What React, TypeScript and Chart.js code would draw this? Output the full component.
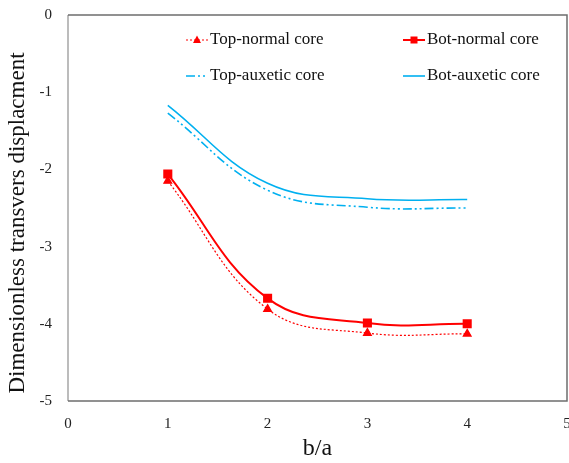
import React, { useEffect, useRef } from "react";
import { Chart, registerables } from "chart.js";
Chart.register(...registerables);

const baRatio = [1, 2, 3, 4];
const topNormal = [-2.15, -3.81, -4.12, -4.13];
const botNormal = [-2.06, -3.67, -3.99, -4.0];
const topAuxetic = [-1.27, -2.27, -2.49, -2.5];
const botAuxetic = [-1.17, -2.18, -2.38, -2.39];
const seriesNames = ["Top-normal core", "Bot-normal core", "Top-auxetic core", "Bot-auxetic core"];
const xTitle = "b/a";
const yTitle = "Dimensionless transvers displacment";

const RED = "#ff0000";
const BLUE = "#00b0f0";
const SERIF = "'Liberation Serif', 'Times New Roman', serif";
const DASHDOT = [9, 3, 2, 3, 2, 3];

const toPts = (ys: number[]) => ys.map((y, i) => ({ x: baRatio[i], y }));

const framePlugin = {
  id: "frame",
  beforeDatasetsDraw(chart: any) {
    const { ctx, chartArea: a } = chart;
    ctx.save();
    ctx.lineWidth = 1.5;
    ctx.strokeStyle = "#a6a6a6";
    ctx.beginPath();
    ctx.moveTo(a.left, a.top);
    ctx.lineTo(a.left, a.bottom);
    ctx.stroke();
    ctx.strokeStyle = "#6e6e6e";
    ctx.beginPath();
    ctx.moveTo(a.left, a.top);
    ctx.lineTo(a.right, a.top);
    ctx.lineTo(a.right, a.bottom);
    ctx.lineTo(a.left, a.bottom);
    ctx.stroke();
    // y-axis title
    ctx.fillStyle = "#111";
    ctx.font = `23px ${SERIF}`;
    ctx.textAlign = "center";
    ctx.textBaseline = "middle";
    ctx.translate(18, (a.top + a.bottom) / 2 + 15);
    ctx.rotate(-Math.PI / 2);
    ctx.fillText(yTitle, 0, 0);
    ctx.restore();
  },
};

const legendPlugin = {
  id: "customLegend",
  afterDatasetsDraw(chart: any) {
    const { ctx, chartArea: a } = chart;
    const cols = [a.left + 118, a.left + 335];
    const rows = [a.top + 25, a.top + 61];
    const sampleW = 22;
    ctx.save();
    ctx.font = `17px ${SERIF}`;
    ctx.textBaseline = "middle";
    ctx.fillStyle = "#111";
    chart.data.datasets.forEach((ds: any, i: number) => {
      const x = cols[i % 2];
      const y = rows[Math.floor(i / 2)];
      ctx.save();
      ctx.strokeStyle = ds.borderColor;
      ctx.lineWidth = ds.borderWidth;
      ctx.setLineDash(ds.borderDash || []);
      ctx.beginPath();
      ctx.moveTo(x, y);
      ctx.lineTo(x + sampleW, y);
      ctx.stroke();
      ctx.restore();
      if (ds.pointRadius > 0) {
        ctx.save();
        ctx.fillStyle = ds.pointBackgroundColor;
        ctx.beginPath();
        const cx = x + sampleW / 2;
        if (ds.pointStyle === "triangle") {
          ctx.moveTo(cx, y - 4.5);
          ctx.lineTo(cx + 4, y + 3);
          ctx.lineTo(cx - 4, y + 3);
          ctx.closePath();
        } else {
          ctx.rect(cx - 3.5, y - 3.5, 7, 7);
        }
        ctx.fill();
        ctx.restore();
      }
      ctx.fillText(seriesNames[i], x + sampleW + 2, y);
    });
    ctx.restore();
  },
};

export default function App() {
  const ref = useRef<HTMLCanvasElement>(null);
  useEffect(() => {
    if (!ref.current) return;
    const chart = new Chart(ref.current, {
      type: "line",
      data: {
        datasets: [
          {
            label: seriesNames[0],
            data: toPts(topNormal),
            borderColor: RED,
            backgroundColor: RED,
            pointBackgroundColor: RED,
            pointBorderColor: RED,
            borderWidth: 1.2,
            borderDash: [2, 2],
            pointStyle: "triangle",
            pointRadius: 4.5,
            tension: 0.4,
          },
          {
            label: seriesNames[1],
            data: toPts(botNormal),
            borderColor: RED,
            backgroundColor: RED,
            pointBackgroundColor: RED,
            pointBorderColor: RED,
            borderWidth: 2,
            pointStyle: "rect",
            pointRadius: 5,
            tension: 0.4,
          },
          {
            label: seriesNames[2],
            data: toPts(topAuxetic),
            borderColor: BLUE,
            backgroundColor: BLUE,
            borderWidth: 1.6,
            borderDash: DASHDOT,
            pointRadius: 0,
            tension: 0.4,
          },
          {
            label: seriesNames[3],
            data: toPts(botAuxetic),
            borderColor: BLUE,
            backgroundColor: BLUE,
            borderWidth: 1.6,
            pointRadius: 0,
            tension: 0.4,
          },
        ],
      },
      options: {
        animation: false,
        responsive: false,
        layout: { autoPadding: false, padding: { top: 15, right: 2, left: 0, bottom: 0 } },
        plugins: { legend: { display: false }, tooltip: { enabled: false } },
        scales: {
          x: {
            type: "linear",
            min: 0,
            max: 5,
            grid: { display: false, drawTicks: false },
            border: { display: false },
            ticks: {
              stepSize: 1,
              padding: 14,
              color: "#222",
              font: { family: SERIF, size: 15 },
            },
            title: {
              display: true,
              text: xTitle,
              color: "#111",
              font: { family: SERIF, size: 24 },
              padding: { top: 2, bottom: 0 },
            },
            afterFit: (s: any) => {
              s.height = 62;
              s.paddingLeft = 0;
              s.paddingRight = 0;
            },
          },
          y: {
            type: "linear",
            min: -5,
            max: 0,
            grid: { display: false, drawTicks: false },
            border: { display: false },
            ticks: {
              stepSize: 1,
              padding: 16,
              color: "#222",
              font: { family: SERIF, size: 15 },
            },
            title: { display: false },
            afterFit: (s: any) => {
              s.width = 68;
              s.paddingTop = 0;
              s.paddingBottom = 0;
            },
          },
        },
      },
      plugins: [framePlugin, legendPlugin],
    });
    return () => chart.destroy();
  }, []);
  return (
    <div style={{ position: "absolute", left: 0, top: 0, width: 569, height: 463, background: "#fff" }}>
      <canvas ref={ref} width={569} height={463} style={{ width: 569, height: 463, display: "block" }} />
    </div>
  );
}
